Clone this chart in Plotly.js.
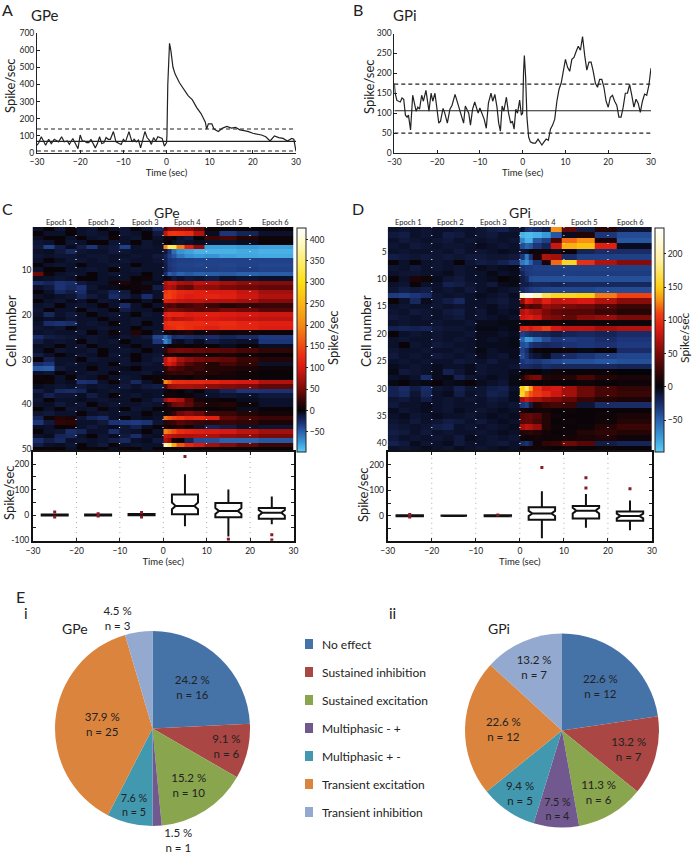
<!DOCTYPE html>
<html><head><meta charset="utf-8">
<script src="https://cdn.plot.ly/plotly-3.0.1.min.js"></script>
<style>html,body{margin:0;padding:0;background:#fff}#c{width:692px;height:853px}</style></head>
<body><div id="c"></div>
<script>
// --- line panels
const gpeTime=[-30,-29.6,-29,-28.5,-28,-27.3,-26.7,-26,-25.5,-25,-24.3,-23.7,-23,-22.5,-21.7,-21,-20.5,-20,-19.5,-19,-18.5,-18,-17.5,-16.5,-16,-15.5,-15,-14.5,-14,-13.5,-13,-12.3,-11.7,-11,-10.5,-10,-9.5,-8.7,-8,-7.5,-7,-6.5,-6,-5,-4.5,-4,-3.5,-3,-2.5,-2,-1.5,-1,-0.5,0,0.1,0.3,0.7,1,1.5,2,3,4,5,6,7,8,9,9.3,9.7,10.5,11,12,13,14,15,16,17,18,19,20,21,22,23,24,25,26,27,28,29,29.5,30];
const gpeRate=[45,60,95,65,45,80,55,80,72,65,95,65,70,50,85,50,25,105,70,70,60,60,80,30,55,95,55,60,90,80,80,125,65,55,50,80,65,125,65,80,65,75,30,125,90,75,50,90,70,95,90,85,40,60,100,400,640,600,500,460,410,370,335,310,265,230,180,140,170,170,140,125,145,155,145,150,135,130,125,115,110,105,95,70,100,90,85,70,85,80,10];
const gpeMean=68,gpeUpper=140,gpeLower=12;
const gpiTime=[-30,-29.8,-29.4,-29,-28.6,-28.2,-27.8,-27.4,-27,-26.7,-26.2,-25.7,-25.3,-24.9,-24.5,-24.1,-23.6,-23.2,-22.6,-22.2,-21.9,-21.4,-21,-20.5,-20,-19.6,-19.2,-18.6,-18.2,-17.6,-17,-16.5,-15.8,-15.3,-14.8,-14.2,-13.8,-13.4,-13,-12.6,-12.2,-11.7,-11.2,-10.8,-10.4,-10,-9.5,-9,-8.5,-8,-7.4,-7,-6.5,-6,-5.6,-5.2,-4.8,-4.4,-3.8,-3.3,-2.8,-2.4,-2,-1.6,-1.2,-0.7,-0.3,0,0.2,0.4,0.7,1,1.4,1.8,2.4,3,3.6,4,4.5,5,5.5,6,6.5,7,7.5,8,8.5,9,9.5,10,10.5,11,11.5,12,12.5,13,13.5,14,14.5,15,15.5,16,16.5,17,17.5,18,18.5,19,19.5,20,20.5,21,21.5,22,22.5,23,23.5,24,24.5,25,25.5,26,26.5,27,27.5,28,28.5,29,29.5,30];
const gpiRate=[175,150,132,130,128,138,135,95,90,95,58,145,125,105,115,110,145,130,157,130,105,150,130,150,115,75,80,112,100,75,110,120,147,130,115,90,75,118,110,100,70,110,128,110,100,113,100,85,62,125,150,130,147,115,75,55,118,105,140,100,75,80,60,110,100,133,95,100,200,245,190,90,40,28,25,25,35,28,20,28,35,32,60,70,85,130,160,175,210,235,215,205,235,240,255,268,258,292,245,208,228,228,205,175,165,185,185,165,130,115,140,145,130,120,90,90,115,150,150,172,145,115,135,125,102,130,148,145,170,213];
const gpiMean=106,gpiUpper=173,gpiLower=50;
// --- heatmaps: 12 bins before stimulation, 10 after
const heatEdges=[-30,-27.5,-25,-22.5,-20,-17.5,-15,-12.5,-10,-7.5,-5,-2.5,0,1,2,3,5,7,9.5,13,17,22,30];
const gpeHeat=[
[-8,3,-10,2,-8,-10,3,-8,-10,2,-8,-25,30,55,60,60,55,40,5,3,2,3],
[3,-8,-8,3,-8,-10,-8,3,-10,-8,3,-12,90,130,135,130,125,80,-5,-30,-20,-8],
[-6,3,2,-8,3,-8,-10,5,-8,-10,2,-8,5,5,3,-8,-12,0,25,30,15,5],
[-10,-8,3,-10,-8,2,3,-10,-8,3,-10,-6,3,0,-6,-10,-8,-5,-8,-8,-5,3],
[-12,-35,-15,-5,-15,-30,-10,-12,-35,-8,-10,-8,200,340,330,190,110,60,-78,-78,-75,-78],
[-8,-6,-12,-22,-10,-8,-8,-12,-10,-8,-8,-8,-12,-30,-55,-72,-78,-85,-85,-85,-82,-85],
[-10,-8,-10,-10,-8,-10,-10,-8,-8,-10,-8,-12,-20,-35,-45,-60,-70,-75,-72,-78,-80,-82],
[-8,3,-6,-10,-10,-8,-10,-8,-10,-8,-8,-10,-18,-30,-32,-35,-35,-36,-36,-36,-36,-36],
[3,-8,-10,-8,2,-8,-8,-10,-8,3,-8,-8,-15,-30,-34,-36,-36,-38,-36,-38,-36,-38],
[-8,3,2,-8,-8,-10,-8,3,-8,-10,-8,-8,-15,-28,-32,-35,-35,-35,-35,-36,-34,-36],
[45,5,-8,-10,-8,3,-8,-10,-8,-8,3,-8,-25,-48,-42,-50,-45,-50,-48,-46,-50,-48],
[-6,-8,-10,-8,3,2,-8,-6,-8,3,5,-8,3,-5,-12,-8,-12,-10,-15,-8,-10,-8],
[-25,-20,-28,-25,-12,-8,-8,8,12,5,-6,-5,80,95,90,75,70,85,80,70,60,55],
[-8,-12,-28,-22,-28,-10,-5,-5,3,5,8,-15,70,80,70,45,40,65,60,50,45,40],
[3,-8,-22,-15,-25,-8,-10,-20,-12,3,-5,-8,130,140,135,120,115,110,105,105,90,70],
[-8,-5,-8,-10,-20,-12,-8,-25,-15,-8,-25,-8,140,145,130,115,105,110,115,110,95,80],
[3,-8,-10,-5,-8,3,-10,-8,3,2,-8,3,110,105,100,90,85,85,80,80,70,55],
[-8,-10,3,-8,-10,-8,3,-8,-25,-8,3,-8,35,30,35,25,30,35,25,15,20,25],
[-10,3,-8,-8,3,-10,-8,3,-15,-8,-8,2,40,50,50,45,40,35,40,50,45,35],
[-8,-22,-8,-12,-8,3,-8,-10,-8,3,-10,-8,110,120,115,115,105,110,110,105,100,95],
[-5,-8,-6,-10,-8,-8,3,-8,-8,-10,-8,-8,85,95,80,85,90,100,100,95,90,85],
[-8,-25,-28,-25,-8,-10,-8,3,-8,-10,3,-8,120,130,130,130,125,125,120,125,115,110],
[-10,-8,-10,3,-8,-8,-10,-8,-8,2,-8,-8,115,120,125,135,125,115,110,120,115,105],
[-8,-10,-8,-8,-10,3,-8,5,-8,15,3,-10,5,10,5,10,15,5,10,5,8,5],
[-25,-15,-12,-10,-8,-10,-8,-5,-10,-8,-12,-38,-55,-40,-25,-28,-25,-22,-25,-20,-25,-32],
[-15,-8,-10,-8,3,-10,-8,-10,3,-8,-8,-30,-65,-50,-8,-5,-12,-5,-15,-10,-8,-30],
[-6,-8,3,-8,-10,3,-8,-8,-6,3,-8,-8,-5,3,5,8,3,5,3,-5,2,-6],
[-8,3,-10,-8,-8,-10,3,-8,-10,-8,3,-8,20,42,45,48,46,42,40,36,30,20],
[-15,-8,3,-6,-10,-8,3,-10,-8,3,-8,-10,5,12,10,5,8,10,5,10,5,3],
[3,-18,-8,-8,3,-10,-8,-8,-10,3,-8,-12,90,125,110,75,60,50,45,40,25,15],
[-25,-30,-8,-10,-8,-6,-8,3,-10,-8,-10,-8,85,105,85,55,35,25,15,30,20,-8],
[-45,-48,-12,-8,-8,3,-8,-8,-5,3,-8,-8,20,40,35,30,20,25,15,15,10,5],
[-8,-10,3,-6,-8,-10,-8,3,-8,-8,-10,-5,15,20,25,20,25,15,15,10,5,2],
[5,3,-8,3,-10,-8,5,-8,-10,-8,3,5,5,10,5,8,3,10,5,8,5,3],
[3,5,-8,-5,-28,-25,-8,3,-10,-22,-8,5,200,170,130,125,120,120,115,105,100,80],
[-5,-8,-10,-8,-12,-8,-10,-8,-12,-8,-12,-15,30,65,70,75,75,70,60,55,50,40],
[-15,-8,-22,-25,-20,-5,-8,-10,-8,-6,-8,-8,-3,2,5,0,-5,3,-10,-20,-30,-28],
[-8,-18,-10,-10,-6,-15,-8,3,-8,-10,-6,-8,3,8,5,3,5,-5,-8,-10,-8,-12],
[-10,3,-8,-8,-5,-8,-10,-8,-8,3,-8,-15,70,90,85,75,35,10,5,3,-5,-8],
[-8,-6,-12,-8,-10,3,-8,-10,-8,-8,-10,-8,5,25,45,50,40,20,10,15,5,-8],
[3,-8,3,-10,-8,-10,5,-8,3,-10,-8,3,3,5,5,8,10,5,3,5,-5,3],
[-10,-12,-8,-8,3,-8,-10,-8,-10,-8,3,-6,5,10,25,45,55,45,25,25,15,8],
[-20,5,15,10,-10,-20,-25,-8,3,-8,-5,-8,180,160,145,135,120,125,110,40,30,25],
[-30,-12,20,18,-8,-8,-12,-28,-30,-32,-28,-10,15,20,25,35,30,25,20,25,20,10],
[-6,-8,3,5,-8,-12,-8,-5,-10,-18,-6,3,10,5,10,15,5,-8,-20,-15,-8,-10],
[3,-8,-10,-25,-20,-8,-8,-25,-10,-8,3,-8,195,175,150,125,115,110,105,100,85,70],
[-8,-5,-20,-22,-8,3,-10,-5,-12,-25,-8,-6,95,85,80,75,75,80,75,65,60,50],
[-25,-15,-22,-8,-10,-8,-10,-15,-22,-8,-5,-12,80,60,10,3,-20,-40,-42,-50,-50,-45],
[-15,-8,-6,-10,3,-8,-12,3,-8,-10,-8,-8,390,350,240,160,120,100,70,55,40,25],
[3,5,3,-8,3,5,3,-6,5,3,-8,3,3,5,3,5,8,3,5,3,3,3]];
const gpiHeat=[
[-8,-10,-8,-10,-8,-8,-10,-8,-10,-15,-18,-10,-8,-25,-30,-25,-15,130,40,-15,15,-10],
[-12,-15,-8,-10,-8,-15,-12,-8,-10,-12,-8,-8,-85,-90,-90,-85,-75,-45,-5,15,-30,-40],
[-8,-12,-10,-8,-10,-12,-8,-10,-8,-10,-8,-10,-65,-85,-85,-45,-35,30,120,130,10,-45],
[-10,-8,-12,-10,-8,-10,-10,-8,-5,-8,-10,-8,-40,-50,-45,-30,-20,80,140,145,90,-5],
[-8,-10,-8,-8,-10,-8,-12,-8,-10,-8,-5,-8,-10,-8,3,5,8,-5,3,-20,-25,-25],
[-15,-12,-10,-12,-10,-12,-10,-12,-12,-10,-10,-12,-30,-60,-30,10,70,65,-25,-35,-35,-35],
[3,-8,3,-8,-10,-8,3,-10,-15,-12,-18,-25,-60,-70,-50,-30,10,120,155,100,70,55],
[-10,-8,-12,-8,-10,-8,-10,-8,-5,-8,-5,-3,-28,-32,-32,-35,-35,-35,-35,-35,-35,-35],
[-8,-10,-10,-8,-8,-5,-10,-8,-8,-3,-8,-5,-20,-30,-32,-33,-33,-33,-34,-33,-33,-33],
[3,-8,12,5,-5,-10,-12,-8,-8,-5,3,-3,-15,-22,-40,-42,-42,-42,-42,-42,-42,-42],
[-8,-10,3,-8,-8,-18,-15,-10,-8,-12,-5,-3,-15,-15,-20,-22,-22,-20,-22,-22,-22,-22],
[-10,-15,-12,-15,-8,-10,-8,-12,-8,-5,-8,-10,-22,-28,-32,-35,-38,-38,-38,-38,-40,-40],
[-32,-35,-30,-25,-10,-8,-10,-8,-5,-8,-10,-5,215,235,230,205,170,155,155,150,125,110],
[3,-8,-22,-5,-10,-15,-22,-8,-8,-10,-12,-8,55,90,85,70,90,75,80,85,70,55],
[-8,-10,-8,-8,-10,-8,-10,-8,-8,-5,-10,-8,20,40,30,35,60,55,50,45,35,25],
[-10,-8,-12,-10,-8,-12,-15,-8,-10,-5,-8,-5,70,80,70,65,50,40,35,35,25,15],
[-12,-10,-8,-10,-8,-10,-12,-8,-10,-8,-5,-8,80,85,90,80,55,50,40,55,60,50],
[-8,-10,-8,-8,-10,-8,-8,-10,-5,-5,-3,-3,5,3,8,5,5,10,5,8,5,5],
[-18,-20,-18,-20,-12,-10,-10,-8,-3,-3,-5,-3,90,95,85,95,110,85,75,75,65,70],
[3,-8,-10,-8,-10,-8,-8,-10,-5,-5,-8,-5,-35,-30,-25,-22,-20,-15,-20,-22,-20,-25],
[-8,-10,-8,-8,-10,-8,-10,-8,-5,-8,-5,-3,-50,-75,-72,-55,-40,-30,-32,-30,-25,-30],
[-8,3,-10,-8,-12,-10,-8,-8,-5,-5,-5,-3,-40,-45,-30,-25,-22,-25,-28,-30,-28,-32],
[-10,-8,-8,-10,-8,-8,-10,-8,-3,-8,-5,-5,-35,-25,-8,5,3,3,5,-3,3,-25],
[-12,-8,-10,-8,-12,-10,-8,-10,-5,-8,-10,-5,-40,-30,-15,-10,-5,-20,-25,-30,-35,-38],
[-8,-10,-8,-10,-8,-8,-12,-10,-8,-12,-8,-8,-30,-35,-32,-30,-35,-38,-42,-42,-45,-42],
[-5,-8,-10,-8,-5,-8,-8,-5,-10,-8,-8,-10,-25,-25,-22,-20,-25,-22,-22,-22,-22,-20],
[-3,-12,-10,-8,-5,-18,-10,-5,-10,-8,-8,-5,0,3,2,0,-3,5,3,3,3,0],
[-8,-5,-8,-25,-5,-3,-18,-10,-8,-5,-8,-3,15,35,45,50,15,10,15,30,15,10],
[-3,3,-5,-3,3,-5,-3,3,-5,-8,-10,-3,5,8,5,3,5,3,3,5,3,5],
[-18,-25,-15,-25,-10,-8,-18,-10,-10,-15,-18,-8,150,175,135,100,80,85,65,45,30,20],
[-18,-22,-10,-22,-8,-5,-15,-8,-10,-18,-15,-5,155,130,115,105,95,80,65,45,30,25],
[-10,-12,-8,-15,-8,-10,-8,-10,-8,-12,-10,-5,65,80,70,65,55,50,40,25,15,10],
[-12,-8,-8,-5,-8,-10,-8,-8,-8,-10,-8,-10,-30,-35,-15,15,25,30,25,-10,-25,-25],
[-5,-10,-8,-5,-8,-10,-5,-8,-10,-8,-5,-8,10,5,3,5,8,3,5,3,3,3],
[-8,-5,-10,-8,-5,-8,-8,-10,-8,-5,-8,-5,35,40,42,35,15,5,3,3,5,10],
[-10,-8,-12,-8,-10,-15,-12,-8,-12,-8,-5,-8,35,38,40,30,15,3,5,3,5,15],
[-12,-10,-8,-10,-15,-18,-8,-10,-8,-10,-8,-5,65,75,70,60,15,5,3,5,15,25],
[-15,-12,-8,-12,-8,-10,-8,-8,-10,-8,-5,-8,15,15,20,15,8,3,5,15,20,15],
[-12,-8,-10,-8,-10,-8,-12,-5,-8,-10,-8,-10,5,3,5,8,5,5,8,10,12,5],
[-18,-12,-5,-10,-8,-5,-12,-8,-8,-10,-12,-8,-22,-28,-18,5,20,25,45,35,-15,-20],
[-8,-10,-8,-5,-8,-10,-5,-8,-10,-8,-5,-8,3,5,5,8,5,3,5,3,5,3]];
const gpeScale=[[-97,'#5ccdf5'],[-75,'#3a9ad8'],[-50,'#2b62ad'],[-30,'#1c3478'],[-12,'#10183c'],[0,'#040408'],[25,'#3a0505'],[50,'#7a0a08'],[100,'#d81812'],[130,'#ec3010'],[200,'#f58a15'],[300,'#fde010'],[400,'#fffbd0'],[427,'#ffffff']];
const gpiScale=[[-98,'#5ccdf5'],[-75,'#3a9ad8'],[-50,'#2b62ad'],[-30,'#1c3478'],[-12,'#10183c'],[0,'#040408'],[25,'#3a0505'],[50,'#7a0a08'],[85,'#d81812'],[110,'#ef4010'],[130,'#f79015'],[150,'#fdd010'],[190,'#fff0a0'],[239,'#ffffff']];
const gpeBarTicks=[-50,0,50,100,150,200,250,300,350,400];
const gpiBarTicks=[-50,0,50,100,150,200];
const epochNames=['Epoch 1','Epoch 2','Epoch 3','Epoch 4','Epoch 5','Epoch 6'];
const epochDividers=[-20,-10,0,10,20];
// --- box plots per epoch
const boxCentres=[-25,-15,-5,5,15,25];
const gpeQ1=[-2,-2,-1,3,-9,-15],gpeMed=[0,0,2,36,16,9],gpeQ3=[2,2,4,81,47,28],gpeLo=[-4,-3,-3,-44,-84,-36],gpeHi=[4,3,6,160,100,73],gpeNotch=[1,1,1,13,12,11];
const gpeOutX=[-25,-25,-15,-15,-5,-5,5,15,25,25],gpeOutY=[12,-8,5,-4,10,-8,230,-95,-78,-98];
const gpiQ1=[-2,-1,-2,-16,-11,-20],gpiMed=[0,0,0,9,20,-1],gpiQ3=[2,1,2,33,38,17],gpiLo=[-4,-2,-3,-88,-47,-57],gpiHi=[4,2,3,96,85,60],gpiNotch=[1,1,1,10,11,9];
const gpiOutX=[-25,-25,-5,5,15,15,25],gpiOutY=[5,-5,3,189,109,149,106];
// --- pies
const categories=['No effect','Sustained inhibition','Sustained excitation','Multiphasic - +','Multiphasic + -','Transient excitation','Transient inhibition'];
const pieColors=['#4573a7','#aa4643','#89a54e','#71588f','#4198af','#db843d','#93a9cf'];
const gpeCounts=[16,6,10,1,5,25,3];
const gpePct=['24.2 %','9.1 %','15.2 %','1.5 %','7.6 %','37.9 %','4.5 %'];
const gpiCounts=[12,7,6,4,5,12,7];
const gpiPct=['22.6 %','13.2 %','11.3 %','7.5 %','9.4 %','22.6 %','13.2 %'];

const W=692,H=853;
const dx=(a,b)=>[a/W,b/W], dy=(t,b)=>[1-b/H,1-t/H];
const narrow='Lato,"Open Sans",sans-serif', sans='Lato,"Open Sans",sans-serif', ink='#222';
const scale=(s,lo,hi)=>s.map(p=>[(p[0]-lo)/(hi-lo),p[1]]);
const tr=[];
function linePanel(ax,t,r,mean,up,lo,xend){
  tr.push({type:'scatter',mode:'lines',xaxis:'x'+ax,yaxis:'y'+ax,x:t,y:r,line:{color:ink,width:1.2},cliponaxis:false,showlegend:false,hoverinfo:'skip'});
  [[mean,'solid'],[up,'4px,3px'],[lo,'4px,3px']].forEach(m=>tr.push({type:'scatter',mode:'lines',xaxis:'x'+ax,yaxis:'y'+ax,x:[-30,xend],y:[m[0],m[0]],line:{color:ink,width:1.1,dash:m[1]},cliponaxis:false,showlegend:false,hoverinfo:'skip'}));
}
linePanel('',gpeTime,gpeRate,gpeMean,gpeUpper,gpeLower,30);
linePanel('2',gpiTime,gpiRate,gpiMean,gpiUpper,gpiLower,30.8);
function heatPanel(ax,z,sc,lo,hi,ticks,rows,barX){
  tr.push({type:'heatmap',xaxis:'x'+ax,yaxis:'y'+ax,x:heatEdges,y:z.map((_,i)=>i+1),z:z,zmin:lo,zmax:hi,colorscale:scale(sc,lo,hi),hoverinfo:'skip',
    colorbar:{x:barX/W,xref:'paper',xanchor:'left',xpad:0,ypad:0,y:1-340/H,yref:'paper',yanchor:'middle',len:224/H,lenmode:'fraction',thickness:8.5,thicknessmode:'pixels',outlinecolor:'#222',outlinewidth:1,
      tickvals:ticks,ticks:'outside',ticklen:2,tickcolor:'#222',tickfont:{family:narrow,size:8.5,color:ink}}});
  epochDividers.forEach(d=>tr.push({type:'scatter',mode:'lines',xaxis:'x'+ax,yaxis:'y'+ax,x:[d,d],y:[0.5,rows+0.5],line:{color:'#e8e8e8',width:1.2,dash:'1px,7px'},showlegend:false,hoverinfo:'skip'}));
}
heatPanel('3',gpeHeat,gpeScale,-97,427,gpeBarTicks,50,297);
heatPanel('4',gpiHeat,gpiScale,-98,239,gpiBarTicks,41,654.7);
function boxPanel(ax,q1,m,q3,lo,hi,notch,ox,oy){
  epochDividers.forEach(d=>tr.push({type:'scatter',mode:'lines',xaxis:'x'+ax,yaxis:'y'+ax,x:[d,d],y:[-110,260],line:{color:'#aaa',width:1,dash:'1px,4px'},showlegend:false,hoverinfo:'skip'}));
  tr.push({type:'box',xaxis:'x'+ax,yaxis:'y'+ax,x:boxCentres,q1:q1,median:m,q3:q3,lowerfence:lo,upperfence:hi,notchspan:notch,notched:true,notchwidth:0.14,width:6,whiskerwidth:0,boxpoints:false,
    line:{color:'#111',width:2},fillcolor:'rgba(255,255,255,0)',showlegend:false,hoverinfo:'skip'});
  tr.push({type:'scatter',mode:'markers',xaxis:'x'+ax,yaxis:'y'+ax,x:ox,y:oy,marker:{color:'#8a1a28',size:3,symbol:'square'},showlegend:false,hoverinfo:'skip'});
}
boxPanel('5',gpeQ1,gpeMed,gpeQ3,gpeLo,gpeHi,gpeNotch,gpeOutX,gpeOutY);
boxPanel('6',gpiQ1,gpiMed,gpiQ3,gpiLo,gpiHi,gpiNotch,gpiOutX,gpiOutY);
function pie(cnt,pct,xd,yd,outs){
  tr.push({type:'pie',labels:categories,values:cnt,sort:false,direction:'clockwise',rotation:0,domain:{x:xd,y:yd},marker:{colors:pieColors,line:{width:0}},
    text:pct.map((p,i)=>p+'<br>n = '+cnt[i]),textinfo:'text',textposition:cnt.map((_,i)=>outs.includes(i)?'outside':'inside'),insidetextorientation:'horizontal',
    textfont:{family:sans,size:11.5,color:'#222'},showlegend:false,hoverinfo:'skip'});
}
pie(gpeCounts,gpePct,dx(55,250),dy(631,826),[3,6]);
pie(gpiCounts,gpiPct,dx(465,659),dy(633,828),[]);

const tf={family:narrow,size:8.5,color:ink};
const xT=[-30,-20,-10,0,10,20,30];
const lineX={range:[-30,30],tickvals:xT,ticks:'inside',ticklen:3,tickcolor:'#222',showline:true,linecolor:'#222',linewidth:1,zeroline:false,showgrid:false,tickfont:tf,ticklabelstandoff:1,title:{text:'Time (sec)',font:{family:narrow,size:9.5,color:ink},standoff:0}};
const lineY=(top,dt)=>({range:[0,top],dtick:dt,ticks:'inside',ticklen:3,tickcolor:'#222',showline:true,linecolor:'#222',linewidth:1,zeroline:false,showgrid:false,tickfont:tf});
const heatX={range:[-30,30],showticklabels:false,ticks:'',zeroline:false,showgrid:false,showline:false};
const heatY=(rows,vals)=>({range:[rows+0.5,0.5],tickvals:vals,ticks:'',zeroline:false,showgrid:false,showline:false,tickfont:tf});
const boxX={range:[-30,30],tickvals:xT,ticks:'inside',ticklen:3,tickcolor:'#222',showline:true,mirror:'ticks',linecolor:'#111',linewidth:2,zeroline:false,showgrid:false,tickfont:tf,ticklabelstandoff:1,title:{text:'Time (sec)',font:{family:narrow,size:9.5,color:ink},standoff:0}};
const boxY=(r)=>({range:r,tickvals:[-100,-50,0,50,100,150,200],ticktext:['-100','','0','','100','','200'],ticks:'inside',ticklen:3,tickcolor:'#222',showline:true,mirror:'ticks',linecolor:'#111',linewidth:2,zeroline:false,showgrid:false,tickfont:tf});

const note=(text,x,y,size,fam)=>({text:text,x:x/W,y:1-y/H,xref:'paper',yref:'paper',showarrow:false,xanchor:'center',yanchor:'middle',font:{family:fam||sans,size:size,color:ink}});
const side=(text,x,y,size)=>Object.assign(note(text,x,y,size),{textangle:-90});
const anns=[note('A',7,9,16),note('B',358,9,16),note('C',7,209,16),note('D',358,209,16),note('E',20,596,16),note('i',26,613,15),note('ii',392,613,15),
 note('GPe',45,15,15),note('GPi',405,15,15),note('GPe',167,212,14),note('GPi',520,212,14),note('GPe',75,628,14),note('GPi',499,628,14),
 side('Spike/sec',10,86,13),side('Spike/sec',369,87,13),side('Cell number',11,331,13.5),side('Cell number',366,331,13.5),side('Spike/sec',9,493,13),side('Spike/sec',363,494,13),side('Spike/sec',333,338,13),side('Spike/sec',684,338,12)];
const epochXc=[59,101,145,188,230,275],epochXd=[408,450,494,542,584,630];
epochNames.forEach((n,i)=>{anns.push(note(n,epochXc[i],222.5,7.5,narrow));anns.push(note(n,epochXd[i],222.5,7.5,narrow));});
const shapes=[];
categories.forEach((c,i)=>{
  const y=644+i*28;
  shapes.push({type:'rect',xref:'paper',yref:'paper',x0:305/W,x1:313/W,y0:1-(y+5)/H,y1:1-(y-5)/H,fillcolor:pieColors[i],line:{width:0}});
  anns.push({text:c,x:320/W,y:1-y/H,xref:'paper',yref:'paper',showarrow:false,xanchor:'left',yanchor:'middle',font:{family:sans,size:12,color:ink}});
});
const layout={width:W,height:H,margin:{l:0,r:0,t:0,b:0,autoexpand:false},paper_bgcolor:'#fff',plot_bgcolor:'rgba(0,0,0,0)',showlegend:false,font:{family:sans,color:ink},
 xaxis:Object.assign({domain:dx(37,296),anchor:'y'},lineX),yaxis:Object.assign({domain:dy(33,153),anchor:'x'},lineY(700,100)),
 xaxis2:Object.assign({domain:dx(394.3,651),anchor:'y2'},lineX),yaxis2:Object.assign({domain:dy(33.5,153),anchor:'x2'},lineY(300,50)),
 xaxis3:Object.assign({domain:dx(32.5,293.5),anchor:'y3'},heatX),yaxis3:Object.assign({domain:dy(227,451.7),anchor:'x3'},heatY(50,[10,20,30,40,50])),
 xaxis4:Object.assign({domain:dx(387.7,652),anchor:'y4'},heatX),yaxis4:Object.assign({domain:dy(227,451.7),anchor:'x4'},heatY(41,[5,10,15,20,25,30,35,40])),
 xaxis5:Object.assign({domain:dx(33,293.5),anchor:'y5'},boxX),yaxis5:Object.assign({domain:dy(452,540.7),anchor:'x5'},boxY([-101,248])),
 xaxis6:Object.assign({domain:dx(387.7,652),anchor:'y6'},boxX),yaxis6:Object.assign({domain:dy(452,541),anchor:'x6'},boxY([-99,250])),
 annotations:anns,shapes:shapes};
Plotly.newPlot('c',tr,layout,{displayModeBar:false,staticPlot:true});
</script></body></html>
